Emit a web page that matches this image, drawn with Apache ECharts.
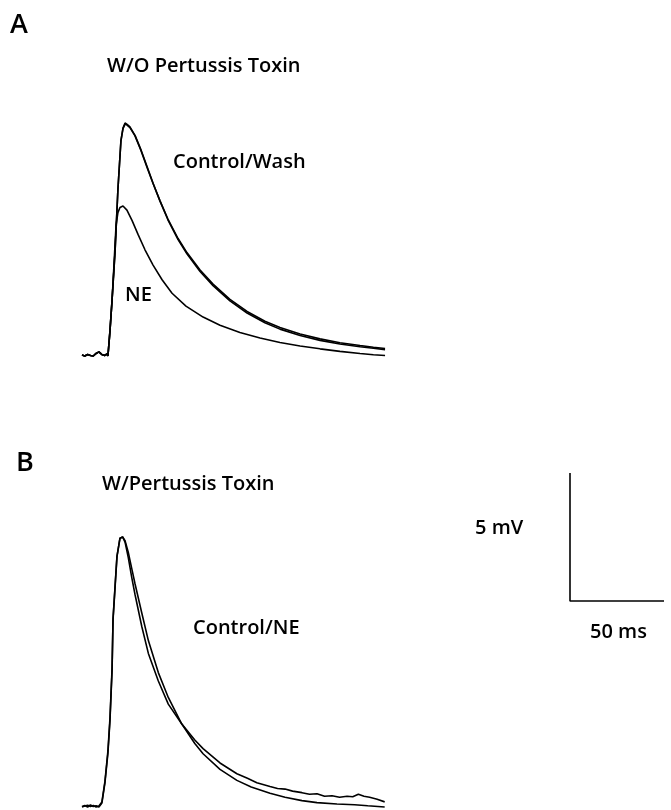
<!DOCTYPE html>
<html><head><meta charset="utf-8">
<script src="https://cdn.jsdelivr.net/npm/echarts@6/dist/echarts.min.js"></script>
<style>html,body{margin:0;padding:0;background:#fff}#c{width:671px;height:810px}</style>
</head><body><div id="c"></div>
<script>
// Panel A (W/O Pertussis Toxin): time in ms, voltage in mV
const tA_ctrl = [0,1.5,3,4.5,6,7.5,9,10.5,12,13.3,13.8,14.9,16.0,17.6,19.1,20.7,21.8,22.9,24.0,25.5,28.2,31.4,34.6,37.8,41.5,45.7,51.1,55.9,62.8,69.7,78.7,87.8,97.3,105.3,116.0,126.6,137.2,147.9,155,161.2];
const vA_ctrl = [0.04,0.0,0.06,0.02,0.0,0.1,0.16,0.06,0.02,0.08,0,1.0,2.2,4.1,6.5,8.4,8.9,9.1,9.05,8.95,8.62,8.05,7.40,6.75,6.05,5.32,4.55,3.98,3.30,2.75,2.15,1.68,1.30,1.05,0.80,0.61,0.47,0.36,0.30,0.25];
const vA_wash = [0.04,0.0,0.06,0.02,0.0,0.1,0.16,0.06,0.02,0.08,0,1.0,2.2,4.1,6.5,8.4,8.88,9.06,9.02,8.92,8.6,8.02,7.36,6.74,6.06,5.35,4.59,4.03,3.36,2.81,2.21,1.74,1.36,1.11,0.86,0.67,0.52,0.41,0.34,0.29];
const tA_ne = [0,1.5,3,4.5,6,7.5,9,10.5,12,13.3,13.8,14.9,16.0,17.0,18.1,19.1,20.2,21.8,23.9,26.6,29.8,33.5,37.8,42.6,47.9,55.3,64.4,73.4,84.0,94.7,105.3,116.0,126.6,137.2,147.9,155,161.2];
const vA_ne = [0.04,0.0,0.06,0.02,0.0,0.1,0.16,0.06,0.02,0.08,0,1.0,2.2,3.55,5.1,5.6,5.8,5.86,5.70,5.30,4.75,4.15,3.55,2.98,2.45,1.95,1.52,1.20,0.92,0.70,0.53,0.39,0.28,0.18,0.10,0.05,0.02];

// Panel B (W/Pertussis Toxin)
const tB_ctrl = [0,1.5,3,4.5,6,7.5,9,9.6,10.6,12.2,13.8,14.9,16.0,16.5,17.6,18.6,20.2,21.6,22.9,24.6,26.5,28.2,31.8,35.3,40.6,45.9,53.0,60.0,64.4,73.4,82.4,90,100,108,117,125,135.6,145,152,161];
const vB_ctrl = [0.02,0.06,0.0,0.08,0.02,0.05,0.0,0.02,0.16,0.94,2.11,3.40,5.35,7.30,8.59,9.77,10.50,10.55,10.40,9.95,9.30,8.72,7.58,6.50,5.25,4.28,3.25,2.48,2.08,1.47,1.04,0.78,0.54,0.38,0.25,0.17,0.12,0.09,0.05,0.0];
const tB_ne = [0,1.5,3,4.5,6,7.5,9,9.6,10.6,12.2,13.8,14.9,16.0,16.5,17.6,18.6,20.2,21.6,22.9,24.6,26.5,28.2,31.8,35.3,40.6,45.9,53.0,60.0,64.4,73.4,82.4,88,93,100,104,108,112,117,121,125,129,133,137,141,144,147,150,153,157,161];
const vB_ne = [0.0,0.04,0.07,0.02,0.06,0.0,0.04,0.02,0.2,1.0,2.2,3.5,5.45,7.35,8.65,9.8,10.5,10.55,10.35,9.75,8.95,8.3,7.05,6.0,4.92,4.02,3.25,2.62,2.28,1.72,1.3,1.12,0.95,0.8,0.72,0.7,0.62,0.56,0.5,0.52,0.42,0.44,0.38,0.42,0.4,0.5,0.42,0.38,0.3,0.2];

// Scale bar: 50 ms x 5 mV
const scaleT = [0,0,50];
const scaleV = [5,0,0];

const pairs = (t,v)=>t.map((x,i)=>[x,v[i]]);
const FONT = '"Open Sans", "DejaVu Sans", sans-serif';
const lbl = (text,x,y,size,align,w)=>({type:'text',x:x,y:y,style:{text:text,fill:'#000',font:(w||'600')+' '+size+'px '+FONT,textAlign:align||'left',textVerticalAlign:'middle'}});
const ln = {color:'#000',width:1.6};
const mk = (name,data,idx)=>({name:name,type:'line',data:data,xAxisIndex:idx,yAxisIndex:idx,showSymbol:false,lineStyle:ln,clip:false,silent:true});

const chart = echarts.init(document.getElementById('c'));
chart.setOption({
  animation:false,
  backgroundColor:'#fff',
  grid:[
    {left:82,top:100,width:303.06,height:268.8},
    {left:82,top:525.4,width:303.06,height:284.16},
    {left:570,top:473,width:94,height:128}
  ],
  xAxis:[
    {type:'value',gridIndex:0,min:0,max:161.2,show:false},
    {type:'value',gridIndex:1,min:0,max:161.2,show:false},
    {type:'value',gridIndex:2,min:0,max:50,show:false}
  ],
  yAxis:[
    {type:'value',gridIndex:0,min:-0.5,max:10,show:false},
    {type:'value',gridIndex:1,min:-0.1,max:11,show:false},
    {type:'value',gridIndex:2,min:0,max:5,show:false}
  ],
  series:[
    mk('Control',pairs(tA_ctrl,vA_ctrl),0),
    mk('Wash',pairs(tA_ctrl,vA_wash),0),
    mk('NE',pairs(tA_ne,vA_ne),0),
    mk('Control B',pairs(tB_ctrl,vB_ctrl),1),
    mk('NE B',pairs(tB_ne,vB_ne),1),
    mk('Scale',pairs(scaleT,scaleV),2)
  ],
  graphic:[
    lbl('A',10,25,27,'left','600'),
    lbl('W/O Pertussis Toxin',107,66,20),
    lbl('Control/Wash',173,162,20),
    lbl('NE',125,295,20),
    lbl('B',16,463,27,'left','600'),
    lbl('W/Pertussis Toxin',102,484,20),
    lbl('Control/NE',193,628,20),
    lbl('5 mV',475,528,20),
    lbl('50 ms',590,632,20)
  ]
});
</script></body></html>
